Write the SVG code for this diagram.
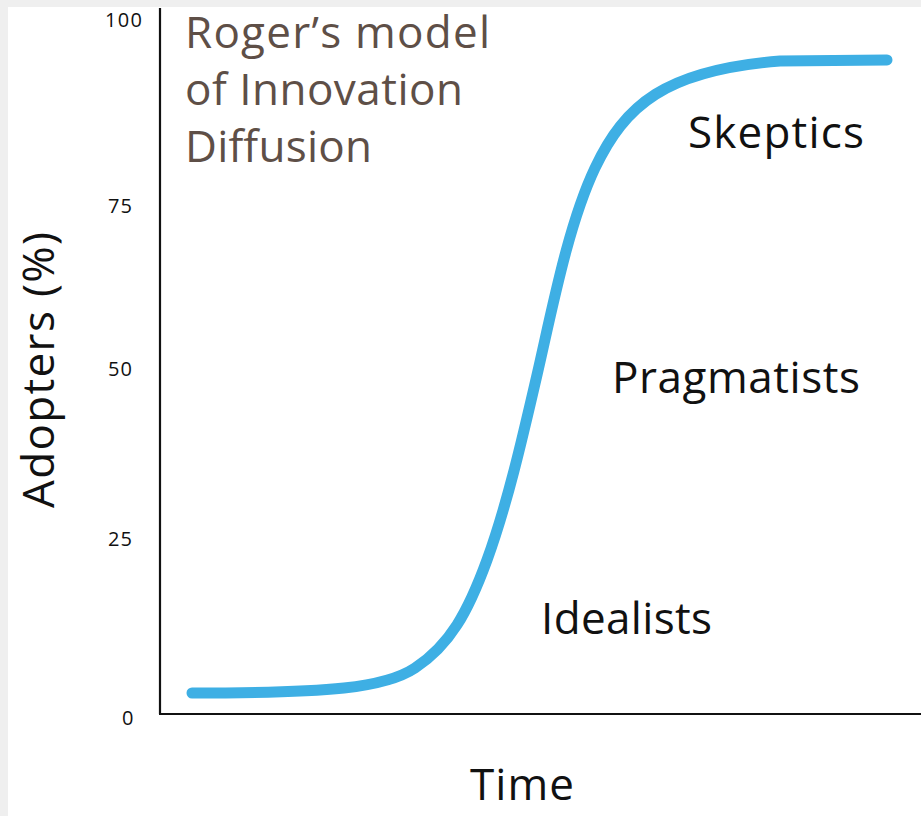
<svg xmlns="http://www.w3.org/2000/svg" width="921" height="816" viewBox="0 0 921 816">
<style>
.tick{font-family:"Open Sans","Liberation Sans",sans-serif;font-size:20px;fill:#111}
.lbl{font-family:"Open Sans","Liberation Sans",sans-serif;font-size:44px;fill:#111}
.title{font-family:"Open Sans","Liberation Sans",sans-serif;font-size:44px;fill:#5e4f47}
.axis{stroke:#111;stroke-width:2.2;fill:none}
.curve{stroke:#3eafe4;stroke-width:11;fill:none;stroke-linecap:round;stroke-linejoin:round}
</style>
<rect x="0" y="0" width="921" height="816" fill="#efefef"/>
<rect x="8" y="7" width="913" height="809" fill="#ffffff"/>
<g id="axes">
<line class="axis" x1="160" y1="8" x2="160" y2="714"/>
<line class="axis" x1="159" y1="714" x2="921" y2="714"/>
</g>
<g id="ticks">
<text class="tick" x="105" y="27" textLength="37">100</text>
<text class="tick" x="108" y="213" textLength="24">75</text>
<text class="tick" x="108" y="376" textLength="24">50</text>
<text class="tick" x="108" y="546" textLength="24">25</text>
<text class="tick" x="122" y="725">0</text>
</g>
<g id="title">
<text class="title" x="185" y="48" textLength="305">Roger’s model</text>
<text class="title" x="185" y="105" textLength="278">of Innovation</text>
<text class="title" x="185" y="162" textLength="187">Diffusion</text>
</g>
<g id="connectors">
<path class="curve" d="M192,693 C330,693 385,688 415,668 C450,645 468,612 487,560 C507,505 522,440 537,375 C552,310 568,225 595,168 C625,105 665,70 780,61 L887,60"/>
</g>
<g id="skeptics"><text class="lbl" x="688" y="148" textLength="176">Skeptics</text></g>
<g id="pragmatists"><text class="lbl" x="612" y="393" textLength="248">Pragmatists</text></g>
<g id="idealists"><text class="lbl" x="541" y="634" textLength="171">Idealists</text></g>
<g id="xlabel"><text class="lbl" x="470" y="800" textLength="104">Time</text></g>
<g id="ylabel"><text class="lbl" transform="translate(54,508) rotate(-90)" textLength="276">Adopters (%)</text></g>
</svg>
